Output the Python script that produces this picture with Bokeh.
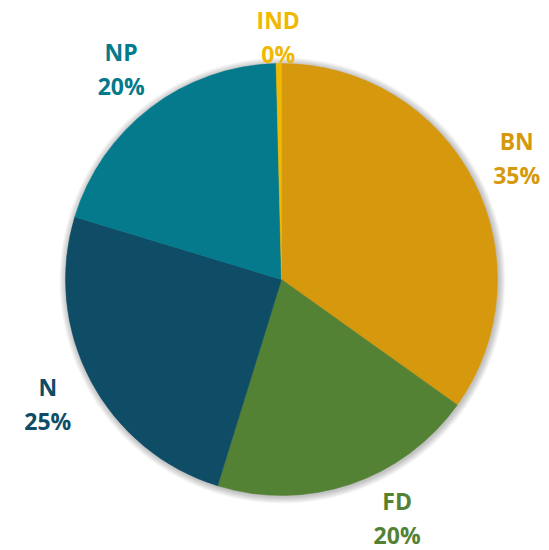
import math
from bokeh.plotting import figure
from bokeh.models import ColumnDataSource
from bokeh.core.properties import value
from bokeh.embed import file_html
from bokeh.resources import INLINE

categories = ["BN", "FD", "N", "NP", "IND"]
values = [35, 20, 25, 20, 0.4]
colors = ["#D6980C", "#548235", "#0F4C66", "#047A8C", "#F0B800"]

W, H = 549, 550
cx, cy = 281, 279
R = 216

p = figure(width=W, height=H, output_backend="svg", toolbar_location=None,
           x_range=(-cx, W - cx), y_range=(-(H - cy), cy), min_border=0)
p.axis.visible = False
p.grid.visible = False
p.outline_line_color = None
p.background_fill_color = "white"

# soft shadow
for i in range(7, 0, -1):
    p.circle(x=[1], y=[-1], radius=R + i, fill_color="#000000", fill_alpha=0.035,
             line_color=None)

total = sum(values)
starts, ends, mids = [], [], []
cum = 0.0
for v in values:
    a0 = cum / total * 2 * math.pi
    cum += v
    a1 = cum / total * 2 * math.pi
    starts.append(math.pi / 2 - a0)
    ends.append(math.pi / 2 - a1)
    mids.append(math.pi / 2 - (a0 + a1) / 2)

src = ColumnDataSource(dict(start=starts, end=ends, color=colors))
p.wedge(x=0, y=0, radius=R, start_angle="start", end_angle="end",
        direction="clock", fill_color="color", line_color="color", line_width=0.5,
        source=src)

lr = R * 1.225
ytop = cy - 36
ybot = H - cy - 33
lx, ly, names, pcts = [], [], [], []
for c, v, m in zip(categories, values, mids):
    x = lr * math.cos(m)
    y = lr * math.sin(m)
    lim = ytop if y > 0 else ybot
    if abs(y) > lim:
        y = math.copysign(lim, y)
        if abs(x) > 30:
            x = math.copysign(math.sqrt(lr * lr - lim * lim), x)
    lx.append(x)
    ly.append(y)
    names.append(c)
    pcts.append(f"{round(v / total * 100)}%")

lsrc = ColumnDataSource(dict(x=lx, y=ly, name=names, pct=pcts, color=colors))
p.text(x="x", y="y", text="name", source=lsrc, text_color="color",
       text_font=value("Open Sans"), text_font_style="bold", text_font_size="23px",
       text_align="center", text_baseline="middle", y_offset=-17)
p.text(x="x", y="y", text="pct", source=lsrc, text_color="color",
       text_font=value("Open Sans"), text_font_style="bold", text_font_size="23px",
       text_align="center", text_baseline="middle", y_offset=17)

open("out.html", "w").write(file_html(p, INLINE))
